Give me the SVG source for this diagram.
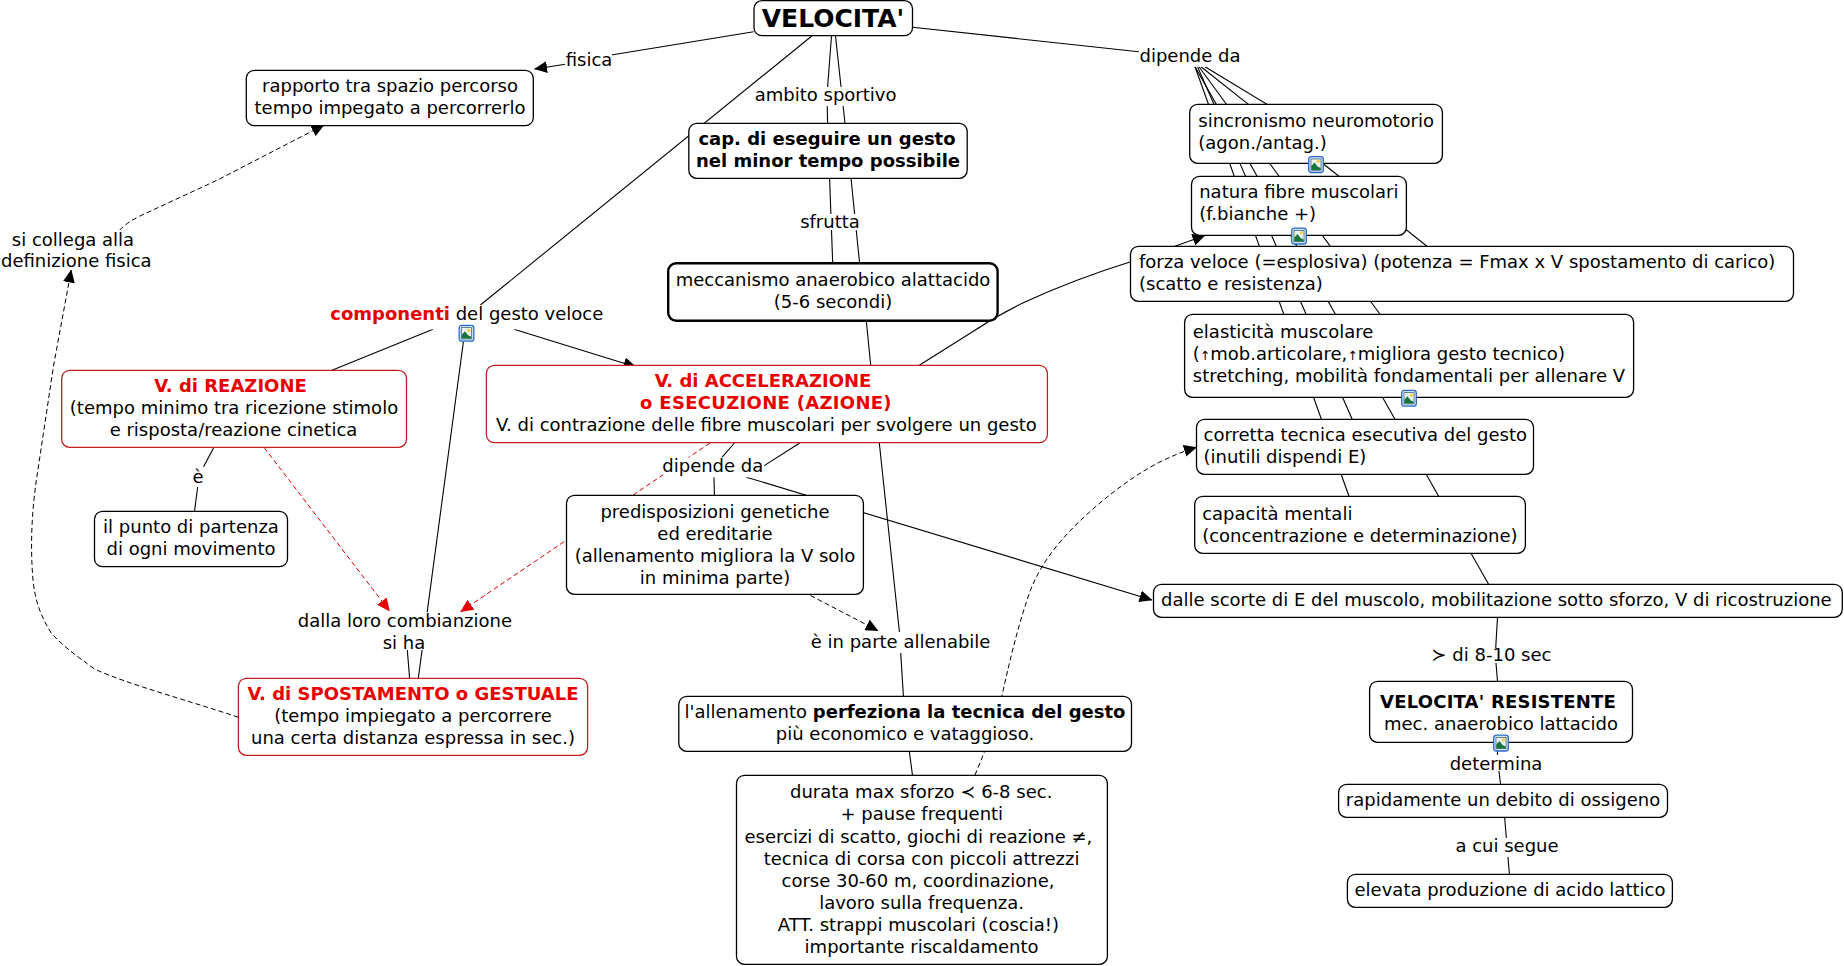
<svg xmlns="http://www.w3.org/2000/svg" xmlns:xlink="http://www.w3.org/1999/xlink" width="1844" height="966" viewBox="0 0 1844 966">
<style>
text{font-family:"DejaVu Sans","Liberation Sans",sans-serif;font-size:18px;fill:#000}
.m{text-anchor:middle}
.b{font-weight:bold}
.r{font-weight:bold;fill:#e80000}
.ua{font-size:12.5px}
.n{fill:#fff;stroke:#000;stroke-width:1.3}
.nr{fill:#fff;stroke:#c41e1e;stroke-width:1.3}
.l{fill:#fff;stroke:none}
.c{fill:none;stroke:#000;stroke-width:1.1}
.d{fill:none;stroke:#000;stroke-width:1;stroke-dasharray:5 3}
.dr{fill:none;stroke:#e00000;stroke-width:1;stroke-dasharray:5 3}
</style>
<defs>
<marker id="a" markerUnits="userSpaceOnUse" markerWidth="13" markerHeight="12" refX="12.500" refY="6" orient="auto"><path d="M0 0L13 6L0 12z" fill="#000"/></marker>
<marker id="ar" markerUnits="userSpaceOnUse" markerWidth="13" markerHeight="12" refX="12.500" refY="6" orient="auto"><path d="M0 0L13 6L0 12z" fill="#e60000"/></marker>
<g id="ic"><rect x="0.700" y="0.700" width="14.600" height="15.800" rx="2.500" fill="#cfe0f5" stroke="#2a6cc4" stroke-width="1.300"/><rect x="3" y="3" width="10" height="11.200" fill="#e8f2f8" stroke="#23404f" stroke-width="0.600"/><path d="M3.300 13.900L3.300 10L6.500 6.500L9.500 10.500L12.700 12L12.700 13.900z" fill="#17743a"/><circle cx="10.300" cy="5.500" r="1.700" fill="#f2d33c"/></g>
</defs>
<g id="connectors">
<path class="c" d="M753.6 31.7L611.3 55"/>
<path class="c" d="M565.4 64.3L534.6 69" marker-end="url(#a)"/>
<path class="c" d="M811.8 36L480.4 305"/>
<path class="c" d="M831.5 36L827 95L827.6 123.3"/>
<path class="c" d="M835.5 36L845 123.3L851 178.3L859.6 263.3L866.3 320.7L870.7 365.3L879.3 443L899.4 631.7L903.4 696.3L909.3 751.4L912.5 775.3"/>
<path class="c" d="M829.6 178.3L832.7 263.3"/>
<path class="c" d="M912.6 27.3L1138.8 51.7"/>
<path class="c" d="M919.3 365.3L971 332.7Q996 316 1023.3 302.7Q1075 279 1130 262L1175.5 246L1205 235.5" marker-end="url(#a)"/>
<path class="c" d="M734.5 443L721.9 457.4"/>
<path class="c" d="M799.800 443L764.200 465.600"/>
<path class="c" d="M714 477.200L714.400 495.300"/>
<path class="c" d="M746.400 477.200L1152 600" marker-end="url(#a)"/>
<path class="dr" d="M710 443L460.600 611.700" marker-end="url(#ar)"/>
<path class="dr" d="M264.100 447.500L389.500 611" marker-end="url(#ar)"/>
<path class="d" d="M810.500 595.500L878 630.700" marker-end="url(#a)"/>
<path class="d" d="M975 775L984 753C992 735 998 715 1001.800 696.300C1010 660 1018 625 1030.300 590.700C1042 560 1064 535 1089.600 512C1112 492 1135 475 1158.800 462.500C1172 456 1184 451 1196.500 447.300" marker-end="url(#a)"/>
<path class="d" d="M119.800 230Q126 223 140 216L217.500 180L324 125" marker-end="url(#a)"/>
<path class="d" d="M238.400 717.300C190 701 130 685 95 669.300C75 655 62 645 51.400 633.300C40 615 35 600 33 580C30 545 32 510 36.400 480L53.400 366.700L71.200 270" marker-end="url(#a)"/>
<path class="c" d="M213.500 448L203.600 466.700"/>
<path class="c" d="M197.700 486.700L194.500 511.300"/>
<path class="c" d="M463.400 341.700L418.300 678.300"/>
<path class="c" d="M407.300 650L409.600 678.300"/>
<path class="c" d="M433 329.300L332 370.300"/>
<path class="c" d="M514 329.300L636 367" marker-end="url(#a)"/>
<path class="c" d="M1195 66.700L1349 496.300"/>
<path class="c" d="M1197.500 66.700L1352.200 419.300"/>
<path class="c" d="M1195 66.700L1488.600 584.300"/>
<path class="c" d="M1199 66.700L1380 314.300"/>
<path class="c" d="M1201 66.700L1427 246.300"/>
<path class="c" d="M1205 66.700L1316 134"/>
<path class="c" d="M1497.500 617.300L1495.300 655L1497.500 681.300"/>
<path class="c" d="M1497.500 751.300L1497.500 760L1500.600 784.300"/>
<path class="c" d="M1504.600 817.300L1509.400 874.300"/>
</g>
<g id="n-velocita"><rect class="n" x="754" y="0.700" width="158.500" height="35" rx="8"/><text class="m b" x="833" y="27" style="font-size:25px">VELOCITA'</text></g>
<g id="n-rapporto"><rect class="n" x="246.300" y="70.300" width="287" height="55.400" rx="8"/><text class="m" x="390" y="92">rapporto tra spazio percorso</text><text class="m" x="390" y="114">tempo impegato a percorrerlo</text></g>
<g id="l-fisica"><rect class="l" x="565" y="46" width="47" height="25"/><text class="m" x="589" y="65.700">fisica</text></g>
<g id="l-ambito"><rect class="l" x="755" y="87" width="141" height="19"/><text class="m" x="825.600" y="100.700">ambito sportivo</text></g>
<g id="n-cap"><rect class="n" x="688.800" y="123.300" width="278.400" height="55" rx="8"/><text class="m b" x="827" y="145">cap. di eseguire un gesto</text><text class="m b" x="828" y="166.700">nel minor tempo possibile</text></g>
<g id="l-sfrutta"><rect class="l" x="800" y="214" width="59.500" height="16"/><text class="m" x="830" y="228">sfrutta</text></g>
<g id="n-meccanismo"><rect class="n" style="stroke-width:2.400" x="668.200" y="263.300" width="329.400" height="57.400" rx="8"/><text class="m" x="833" y="286">meccanismo anaerobico alattacido</text><text class="m" x="833" y="308">(5-6 secondi)</text></g>
<g id="l-dipende-top"><rect class="l" x="1140" y="43" width="99.500" height="23.700"/><text class="m" x="1190" y="61.700">dipende da</text></g>
<g id="n-sincronismo"><rect class="n" x="1189.700" y="104.300" width="252.700" height="59" rx="8"/><text x="1198.300" y="126.600">sincronismo neuromotorio</text><text x="1198.300" y="148.600">(agon./antag.)</text><use xlink:href="#ic" href="#ic" x="1308" y="156"/></g>
<g id="n-natura"><rect class="n" x="1191.500" y="176.300" width="214.900" height="59" rx="8"/><text x="1199.200" y="198">natura fibre muscolari</text><text x="1199.200" y="220">(f.bianche +)</text><use xlink:href="#ic" href="#ic" x="1291" y="227.500"/></g>
<g id="n-forza"><rect class="n" x="1130.500" y="246.300" width="663" height="55" rx="8"/><text x="1139" y="268">forza veloce (=esplosiva) (potenza = Fmax x V spostamento di carico)</text><text x="1139" y="290">(scatto e resistenza)</text></g>
<g id="n-elasticita"><rect class="n" x="1184.600" y="314.300" width="449" height="83" rx="8"/><text x="1192.800" y="338">elasticità muscolare</text><text x="1192.800" y="360">(<tspan class="ua">↑</tspan>mob.articolare,<tspan class="ua">↑</tspan>migliora gesto tecnico)</text><text x="1192.800" y="382">stretching, mobilità fondamentali per allenare V</text><use xlink:href="#ic" href="#ic" x="1401" y="389.700"/></g>
<g id="n-corretta"><rect class="n" x="1196.500" y="419.300" width="337" height="55" rx="8"/><text x="1203.500" y="440.700">corretta tecnica esecutiva del gesto</text><text x="1203.500" y="462.700">(inutili dispendi E)</text></g>
<g id="n-capacita"><rect class="n" x="1194.700" y="496.300" width="330.700" height="57" rx="8"/><text x="1202.200" y="520">capacità mentali</text><text x="1202.200" y="542">(concentrazione e determinazione)</text></g>
<g id="n-dalle"><rect class="n" x="1153.500" y="584.300" width="688.800" height="33" rx="8"/><text x="1161" y="605.700">dalle scorte di E del muscolo, mobilitazione sotto sforzo, V di ricostruzione</text></g>
<g id="l-maggiore"><rect class="l" x="1431" y="648" width="121" height="15"/><text class="m" x="1491.500" y="660.700">≻ di 8-10 sec</text></g>
<g id="n-resistente"><rect class="n" x="1369.600" y="681.300" width="262.900" height="61" rx="8"/><text class="m b" x="1498" y="708" style="letter-spacing:.2px">VELOCITA' RESISTENTE</text><text class="m" x="1501" y="730">mec. anaerobico lattacido</text><use xlink:href="#ic" href="#ic" x="1493" y="734.500"/></g>
<g id="l-determina"><rect class="l" x="1450" y="755" width="92" height="16"/><text class="m" x="1496" y="770">determina</text></g>
<g id="n-rapidamente"><rect class="n" x="1338.600" y="784.300" width="328.900" height="33" rx="8"/><text class="m" x="1503" y="806">rapidamente un debito di ossigeno</text></g>
<g id="l-acui"><rect class="l" x="1456" y="838" width="102" height="19"/><text class="m" x="1507" y="852">a cui segue</text></g>
<g id="n-elevata"><rect class="n" x="1347.400" y="874.300" width="325" height="33" rx="8"/><text class="m" x="1510" y="895.700">elevata produzione di acido lattico</text></g>
<g id="l-componenti"><rect class="l" x="331" y="305" width="271" height="24.300"/><text class="m" x="466.800" y="320"><tspan class="r">componenti</tspan> del gesto veloce</text><use xlink:href="#ic" href="#ic" x="458.500" y="324.700"/></g>
<g id="n-accel"><rect class="nr" x="486.400" y="365.300" width="561" height="77.400" rx="8"/><text class="m r" x="763" y="386.700">V. di ACCELERAZIONE</text><text class="m r" x="766" y="408.700" style="letter-spacing:.3px">o ESECUZIONE (AZIONE)</text><text class="m" x="766.500" y="430.700">V. di contrazione delle fibre muscolari per svolgere un gesto</text></g>
<g id="n-reazione"><rect class="nr" x="61.700" y="370.300" width="344.800" height="77" rx="8"/><text class="m r" x="230.500" y="391.700">V. di REAZIONE</text><text class="m" x="234" y="413.700">(tempo minimo tra ricezione stimolo</text><text class="m" x="233.500" y="435.700">e risposta/reazione cinetica</text></g>
<g id="l-e"><rect class="l" x="190" y="467" width="15" height="20"/><text class="m" x="198" y="483">è</text></g>
<g id="n-punto"><rect class="n" x="94.500" y="511.300" width="193" height="55.400" rx="8"/><text class="m" x="191" y="532.700">il punto di partenza</text><text class="m" x="191" y="554.700">di ogni movimento</text></g>
<g id="l-collega"><rect class="l" x="0" y="230" width="152" height="40"/><text class="m" x="73" y="245.700">si collega alla</text><text class="m" x="76.300" y="267">definizione fisica</text></g>
<g id="l-dipende-mid"><rect class="l" x="663" y="457.500" width="99.500" height="19.700"/><text class="m" x="712.800" y="471.700">dipende da</text></g>
<g id="n-predisposizioni"><rect class="n" x="566.500" y="495.300" width="296.900" height="99.100" rx="8"/><text class="m" x="715" y="518.200">predisposizioni genetiche</text><text class="m" x="715" y="540">ed ereditarie</text><text class="m" x="715" y="562">(allenamento migliora la V solo</text><text class="m" x="715" y="583.800">in minima parte)</text></g>
<g id="l-dalla"><rect class="l" x="298" y="612" width="213" height="38"/><text class="m" x="404.900" y="626.700">dalla loro combianzione</text><text class="m" x="404" y="648.700">si ha</text></g>
<g id="n-spostamento"><rect class="nr" x="238.400" y="678.300" width="349.200" height="77" rx="8"/><text class="m r" x="413" y="700">V. di SPOSTAMENTO o GESTUALE</text><text class="m" x="413" y="722">(tempo impiegato a percorrere</text><text class="m" x="413" y="744">una certa distanza espressa in sec.)</text></g>
<g id="l-allenabile"><rect class="l" x="811" y="632" width="179" height="21"/><text class="m" x="900.600" y="647.800">è in parte allenabile</text></g>
<g id="n-allenamento"><rect class="n" x="678.800" y="696.300" width="452.700" height="55.100" rx="8"/><text class="m" x="905" y="718.200">l'allenamento <tspan class="b">perfeziona la tecnica del gesto</tspan></text><text class="m" x="905" y="740">più economico e vataggioso.</text></g>
<g id="n-durata"><rect class="n" x="736.500" y="775.300" width="370.900" height="189.100" rx="8"/><text class="m" x="921.200" y="797.900">durata max sforzo ≺ 6-8 sec.</text><text class="m" x="921.800" y="820.400">+ pause frequenti</text><text class="m" x="918.400" y="842.600">esercizi di scatto, giochi di reazione ≠,</text><text class="m" x="921.600" y="865.200">tecnica di corsa con piccoli attrezzi</text><text class="m" x="918" y="887">corse 30-60 m, coordinazione,</text><text class="m" x="921.600" y="909.300">lavoro sulla frequenza.</text><text class="m" x="918.400" y="931.200">ATT. strappi muscolari (coscia!)</text><text class="m" x="921.600" y="953">importante riscaldamento</text></g>
</svg>
